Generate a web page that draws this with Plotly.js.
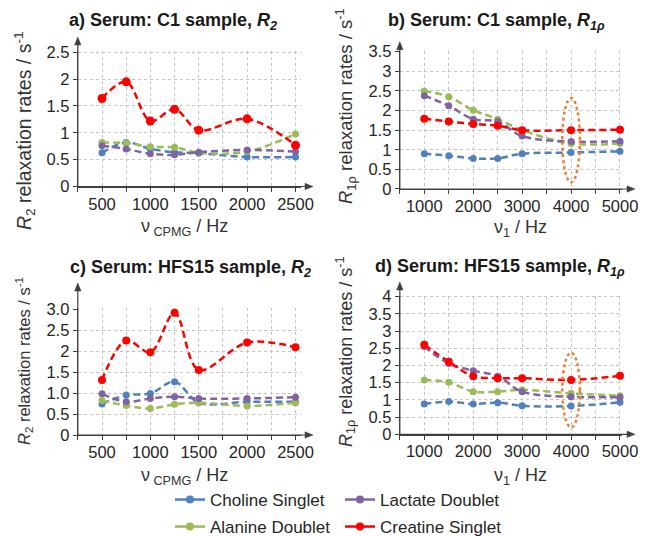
<!DOCTYPE html>
<html>
<head>
<meta charset="utf-8">
<script src="https://cdn.plot.ly/plotly-3.0.1.min.js"></script>
<style>html,body{margin:0;padding:0;background:#fff;}#chart{width:649px;height:536px;}</style>
</head>
<body>
<div id="chart"></div>
<script>
// ---------------- DATA ----------------
const seriesNames = ["Choline Singlet", "Alanine Doublet", "Lactate Doublet", "Creatine Singlet"];
const seriesColors = ["#4f81bd", "#9bbb59", "#8064a2", "#ff0000"];

const xCPMG = [500, 750, 1000, 1250, 1500, 2000, 2500];     // ν_CPMG / Hz
const xSpinlock = [1000, 1500, 2000, 2500, 3000, 4000, 5000]; // ν_1 / Hz

// a) Serum: C1 sample, R2
const a_choline  = [0.63, 0.82, 0.70, 0.64, 0.62, 0.55, 0.55];
const a_alanine  = [0.82, 0.81, 0.74, 0.73, 0.63, 0.65, 0.98];
const a_lactate  = [0.76, 0.70, 0.61, 0.59, 0.64, 0.68, 0.65];
const a_creatine = [1.64, 1.95, 1.22, 1.44, 1.05, 1.26, 0.77];

// b) Serum: C1 sample, R1rho
const b_choline  = [0.90, 0.85, 0.78, 0.78, 0.90, 0.93, 0.96];
const b_alanine  = [2.50, 2.35, 2.01, 1.78, 1.50, 1.16, 1.16];
const b_lactate  = [2.38, 2.12, 1.78, 1.72, 1.35, 1.21, 1.22];
const b_creatine = [1.79, 1.72, 1.66, 1.61, 1.50, 1.50, 1.51];

// c) Serum: HFS15 sample, R2
const c_choline  = [0.74, 0.95, 0.99, 1.27, 0.77, 0.79, 0.79];
const c_alanine  = [0.82, 0.70, 0.63, 0.73, 0.77, 0.69, 0.77];
const c_lactate  = [0.98, 0.79, 0.87, 0.91, 0.87, 0.87, 0.90];
const c_creatine = [1.31, 2.25, 1.97, 2.91, 1.55, 2.20, 2.09];

// d) Serum: HFS15 sample, R1rho
const d_choline  = [0.88, 0.95, 0.88, 0.92, 0.83, 0.82, 0.93];
const d_alanine  = [1.58, 1.51, 1.24, 1.24, 1.29, 1.19, 1.12];
const d_lactate  = [2.55, 2.06, 1.85, 1.69, 1.24, 1.09, 1.08];
const d_creatine = [2.60, 2.11, 1.69, 1.63, 1.63, 1.58, 1.70];

// tick labels
const xTickCPMG = [500, 1000, 1500, 2000, 2500];
const xTickCPMGText = ["500", "1000", "1500", "2000", "2500"];
const xTickSL = [1000, 2000, 3000, 4000, 5000];
const xTickSLText = ["1000", "2000", "3000", "4000", "5000"];
const yTickA = [0, 0.5, 1, 1.5, 2, 2.5];
const yTickAText = ["0", "0.5", "1", "1.5", "2", "2.5"];
const yTickB = [0, 0.5, 1, 1.5, 2, 2.5, 3, 3.5];
const yTickBText = ["0", "0.5", "1", "1.5", "2", "2.5", "3", "3.5"];
const yTickC = [0, 0.5, 1, 1.5, 2, 2.5, 3];
const yTickCText = ["0", "0.5", "1.0", "1.5", "2", "2.5", "3.0"];
const yTickD = [0, 0.5, 1, 1.5, 2, 2.5, 3, 3.5, 4];
const yTickDText = ["0", "0.5", "1", "1.5", "2", "2.5", "3", "3.5", "4"];
const minorStepCPMG = 250, minorStepSL = 500;

// highlighted frequency (dotted ellipse)
const highlightX = 4000;
const highlightYb = [0.17, 2.32];
const highlightYd = [0.20, 2.37];

// ---------------- LAYOUT HELPERS ----------------
const W = 649, H = 536;
const FONT = "Liberation Sans, Arial, sans-serif";
function xDom(va, pa, vb, pb, r0, r1) { const s = (pb - pa) / (vb - va); return [(pa + (r0 - va) * s) / W, (pa + (r1 - va) * s) / W]; }
function yDom(va, pa, vb, pb, r0, r1) { const s = (pb - pa) / (vb - va); return [1 - (pa + (r0 - va) * s) / H, 1 - (pa + (r1 - va) * s) / H]; }
const px = p => p / W, py = p => 1 - p / H;

const rA = [250, 2560], rB = [500, 5050];
const domXA = xDom(500, 102, 2500, 295.5, rA[0], rA[1]);
const domXB = xDom(1000, 424.3, 5000, 620, rB[0], rB[1]);
const ryA = [0, 2.52], ryB = [0, 3.52], ryC = [0, 3.02], ryD = [0, 4.03];
const domYA = yDom(0, 186.5, 2.5, 52.3, ryA[0], ryA[1]);
const domYB = yDom(0, 189, 3.5, 51.7, ryB[0], ryB[1]);
const domYC = yDom(0, 435, 3, 309, ryC[0], ryC[1]);
const domYD = yDom(0, 434.3, 4, 296.7, ryD[0], ryD[1]);

const AXC = "#404040";
const GRID = { showgrid: true, gridcolor: "#c4c4c4", griddash: "dot", gridwidth: 1 };
function xAxis(dom, rng, tv, tt, anchor, step) {
  return Object.assign({ domain: dom, range: rng, anchor: anchor, tickmode: "array", tickvals: tv, ticktext: tt,
    showline: true, linecolor: AXC, linewidth: 1.2, ticks: "outside", ticklen: 4, tickcolor: AXC,
    ticklabelstandoff: -2, automargin: false,
    minor: Object.assign({ tick0: 0, dtick: step, ticks: "outside", ticklen: 4, tickcolor: AXC }, GRID),
    zeroline: false, tickfont: { family: FONT, size: 16.5, color: "#262626" }, fixedrange: true }, GRID);
}
function yAxis(dom, rng, tv, tt, anchor) {
  return Object.assign({ domain: dom, range: rng, anchor: anchor, tickmode: "array", tickvals: tv, ticktext: tt,
    showline: true, linecolor: AXC, linewidth: 1.2, ticks: "outside", ticklen: 4, tickcolor: AXC,
    automargin: false,
    zeroline: false, tickfont: { family: FONT, size: 16.5, color: "#262626" }, fixedrange: true }, GRID);
}

// ---------------- TRACES ----------------
const traces = [];
function addPanel(xs, ysList, xa, ya, redSize) {
  ysList.forEach((ys, i) => {
    traces.push({ type: "scatter", mode: "lines+markers", x: xs, y: ys, xaxis: xa, yaxis: ya,
      showlegend: false, cliponaxis: false,
      line: { color: seriesColors[i], width: 2.5, dash: "7px,4px", shape: "spline", smoothing: 1 },
      marker: { color: seriesColors[i], size: i === 3 ? redSize : 7 } });
  });
}
addPanel(xCPMG, [a_choline, a_alanine, a_lactate, a_creatine], "x", "y", 9);
addPanel(xSpinlock, [b_choline, b_alanine, b_lactate, b_creatine], "x2", "y2", 8);
addPanel(xCPMG, [c_choline, c_alanine, c_lactate, c_creatine], "x3", "y3", 8);
addPanel(xSpinlock, [d_choline, d_alanine, d_lactate, d_creatine], "x4", "y4", 8);

// legend-only entries (solid lines): row 1 Choline, Lactate; row 2 Alanine, Creatine
const legendOrder = [[0, "legend"], [2, "legend"], [1, "legend2"], [3, "legend2"]];
legendOrder.forEach(([i, lg]) => {
  traces.push({ type: "scatter", mode: "lines+markers", x: [null], y: [null], xaxis: "x", yaxis: "y",
    name: seriesNames[i], legend: lg, showlegend: true,
    line: { color: seriesColors[i], width: 2.5 }, marker: { color: seriesColors[i], size: 8 } });
});

// ---------------- ANNOTATIONS ----------------
const ann = [];
function txt(text, x, y, size, opts) {
  ann.push(Object.assign({ text: text, xref: "paper", yref: "paper", x: px(x), y: py(y), showarrow: false,
    xanchor: "center", yanchor: "middle", font: { family: FONT, size: size, color: "#1a1a1a" } }, opts || {}));
}
const T = (s) => ({ family: FONT, size: s, color: "#333" });
// panel titles
txt("<b>a) Serum: C1 sample, <i>R</i><sub><i>2</i></sub></b>", 173, 21, 18);
txt("<b>b) Serum: C1 sample, <i>R</i><sub><i>1ρ</i></sub></b>", 496, 21, 18);
txt("<b>c) Serum: HFS15 sample, <i>R</i><sub><i>2</i></sub></b>", 190, 268, 18);
txt("<b>d) Serum: HFS15 sample, <i>R</i><sub><i>1ρ</i></sub></b>", 500, 267, 18);
// y titles
txt("<i>R</i><sub>2</sub> relaxation rates / s<sup>-1</sup>", 24, 131, 19.5, { textangle: -90, font: T(19.5) });
txt("<i>R</i><sub>1ρ</sub> relaxation rates / s<sup>-1</sup>", 346, 106, 18.5, { textangle: -90, font: T(18.5) });
txt("<i>R</i><sub>2</sub> relaxation rates / s<sup>-1</sup>", 24, 361, 16.5, { textangle: -90, font: T(16.5) });
txt("<i>R</i><sub>1ρ</sub> relaxation rates / s<sup>-1</sup>", 345, 352, 18, { textangle: -90, font: T(18) });
// x titles
txt("ν<sub> CPMG</sub> / Hz", 184, 214, 18, { yanchor: "top", font: T(18) });
txt("ν<sub>1</sub> / Hz", 520, 215, 18, { yanchor: "top", font: T(18) });
txt("ν<sub> CPMG</sub> / Hz", 184, 463, 18, { yanchor: "top", font: T(18) });
txt("ν<sub>1</sub> / Hz", 520, 463, 18, { yanchor: "top", font: T(18) });

// ---------------- SHAPES ----------------
const shapes = [
  { type: "circle", xref: "x2", yref: "y2", x0: highlightX - 180, x1: highlightX + 180, y0: highlightYb[0], y1: highlightYb[1],
    line: { color: "#ed7d31", width: 2.5, dash: "dot" }, layer: "above" },
  { type: "circle", xref: "x4", yref: "y4", x0: highlightX - 180, x1: highlightX + 180, y0: highlightYd[0], y1: highlightYd[1],
    line: { color: "#ed7d31", width: 2.5, dash: "dot" }, layer: "above" }
];
// axis arrows (line extension + filled head), in paper coordinates
function P(x, y) { return px(x).toFixed(5) + "," + py(y).toFixed(5); }
function upArrow(x, tipY, fromY) {
  shapes.push({ type: "line", xref: "paper", yref: "paper", x0: px(x), x1: px(x), y0: py(fromY), y1: py(tipY + 4), line: { color: AXC, width: 1.2 } });
  shapes.push({ type: "path", xref: "paper", yref: "paper", path: "M" + P(x - 3.2, tipY + 8) + " L" + P(x, tipY) + " L" + P(x + 3.2, tipY + 8) + " Z",
    fillcolor: AXC, line: { color: AXC, width: 0.5 } });
}
function rightArrow(tipX, y, fromX) {
  shapes.push({ type: "line", xref: "paper", yref: "paper", x0: px(fromX), x1: px(tipX - 4), y0: py(y), y1: py(y), line: { color: AXC, width: 1.2 } });
  shapes.push({ type: "path", xref: "paper", yref: "paper", path: "M" + P(tipX - 8, y - 3.2) + " L" + P(tipX, y) + " L" + P(tipX - 8, y + 3.2) + " Z",
    fillcolor: AXC, line: { color: AXC, width: 0.5 } });
}
const oA = [domXA[0] * W, (1 - domYA[0]) * H], oB = [domXB[0] * W, (1 - domYB[0]) * H];
const oC = [domXA[0] * W, (1 - domYC[0]) * H], oD = [domXB[0] * W, (1 - domYD[0]) * H];
upArrow(oA[0], 37, oA[1]); rightArrow(313, oA[1], oA[0]);
upArrow(oB[0], 41.7, oB[1]); rightArrow(635, oB[1], oB[0]);
upArrow(oC[0], 283, oC[1]); rightArrow(313, oC[1], oC[0]);
upArrow(oD[0], 282, oD[1]); rightArrow(635, oD[1], oD[0]);

const legendBase = { orientation: "h", xref: "paper", yref: "paper", xanchor: "left", yanchor: "middle",
  entrywidth: 125, bgcolor: "rgba(0,0,0,0)", borderwidth: 0, font: { family: FONT, size: 17, color: "#262626" },
  itemclick: false, itemdoubleclick: false };

const layout = {
  width: W, height: H, autosize: false, margin: { l: 0, r: 0, t: 0, b: 0, autoexpand: false },
  paper_bgcolor: "#ffffff", plot_bgcolor: "#ffffff",
  font: { family: FONT },
  xaxis: xAxis(domXA, rA, xTickCPMG, xTickCPMGText, "y", minorStepCPMG),
  yaxis: yAxis(domYA, ryA, yTickA, yTickAText, "x"),
  xaxis2: xAxis(domXB, rB, xTickSL, xTickSLText, "y2", minorStepSL),
  yaxis2: yAxis(domYB, ryB, yTickB, yTickBText, "x2"),
  xaxis3: xAxis(domXA, rA, xTickCPMG, xTickCPMGText, "y3", minorStepCPMG),
  yaxis3: yAxis(domYC, ryC, yTickC, yTickCText, "x3"),
  xaxis4: xAxis(domXB, rB, xTickSL, xTickSLText, "y4", minorStepSL),
  yaxis4: yAxis(domYD, ryD, yTickD, yTickDText, "x4"),
  legend: Object.assign({}, legendBase, { x: px(170), y: py(500) }),
  legend2: Object.assign({}, legendBase, { x: px(170), y: py(527) }),
  annotations: ann,
  shapes: shapes
};

Plotly.newPlot("chart", traces, layout, { displayModeBar: false, staticPlot: true });
</script>
</body>
</html>
